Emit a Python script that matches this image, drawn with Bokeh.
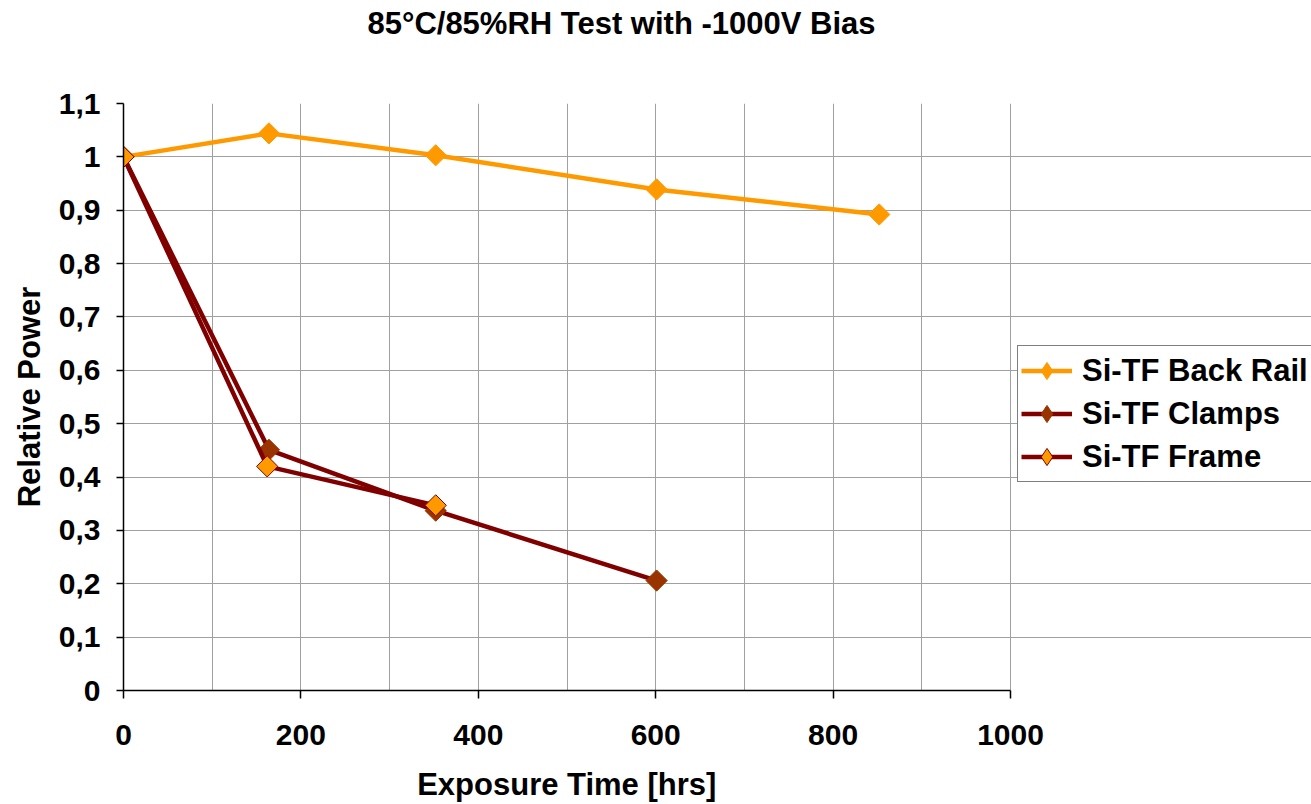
import numpy as np
from bokeh.plotting import figure
from bokeh.models import (FixedTicker, CustomJSTickFormatter, Legend, LegendItem,
                          Range1d, Title)
from bokeh.embed import file_html
from bokeh.resources import INLINE

# ---- data ----
title_text = "85°C/85%RH Test with -1000V Bias"
x_label = "Exposure Time [hrs]"
y_label = "Relative Power"

back_rail_x = [0, 164, 352, 601, 852]
back_rail_y = [1.0, 1.044, 1.003, 0.939, 0.892]

clamps_x = [0, 164, 352, 601]
clamps_y = [1.0, 0.451, 0.337, 0.206]

frame_x = [0, 162, 352]
frame_y = [1.0, 0.420, 0.347]

series_names = ["Si-TF Back Rail", "Si-TF Clamps", "Si-TF Frame"]
x_ticks = [0, 200, 400, 600, 800, 1000]
x_grid = [0, 100, 200, 300, 400, 500, 600, 700, 800, 900, 1000]
y_ticks = [0.0, 0.1, 0.2, 0.3, 0.4, 0.5, 0.6, 0.7, 0.8, 0.9, 1.0, 1.1]

FONT = "Liberation Sans"
ORANGE = "#FF9900"
DARKRED = "#800000"
BROWN = "#993300"

# plot area spans 0..1000; the frame is widened to the right so the legend fits inside
X_MAX = 1000
X_VIEW_END = X_MAX * 1188 / 887

p = figure(width=1311, height=804, output_backend="svg", toolbar_location=None,
           x_range=Range1d(0, X_VIEW_END), y_range=Range1d(0, 1.1),
           min_border_left=123, min_border_right=0, min_border_top=103,
           min_border_bottom=114)

p.background_fill_color = "white"
p.border_fill_color = "white"
p.outline_line_color = None

# spacer above the frame, then the title on top of it
spacer = Title(text=" ", text_font_size="1px", standoff=58)
p.add_layout(spacer, "above")
t = Title(text=title_text, align="left", offset=244, standoff=0,
          vertical_align="top",
          text_font=FONT, text_font_size="31px", text_font_style="bold",
          text_color="black")
p.add_layout(t, "above")

# axes
p.xaxis.ticker = FixedTicker(ticks=x_ticks)
p.xaxis.bounds = (0, X_MAX)
p.yaxis.ticker = FixedTicker(ticks=y_ticks)
p.yaxis.formatter = CustomJSTickFormatter(code="""
    let s = tick.toFixed(1);
    if (s.endsWith('.0')) { s = s.slice(0, -2); }
    return s.replace('.', ',');
""")
for ax in (p.xaxis, p.yaxis):
    ax.axis_line_color = "black"
    ax.axis_line_width = 1.5
    ax.major_tick_line_color = "black"
    ax.major_tick_line_width = 1.5
    ax.major_tick_in = 0
    ax.minor_tick_line_color = None
    ax.major_label_text_font = FONT
    ax.major_label_text_font_size = "30px"
    ax.major_label_text_font_style = "bold"
    ax.major_label_text_color = "black"
    ax.axis_label_text_font = FONT
    ax.axis_label_text_font_size = "31px"
    ax.axis_label_text_font_style = "bold"
    ax.axis_label_text_color = "black"

# the x label is centred on the whole (widened) frame; trailing no-break spaces
# shift it back under the 0..1000 plot area
p.xaxis.axis_label = x_label + "\u00a0" * 35
p.yaxis.axis_label = y_label
p.xaxis.major_tick_out = 8
p.yaxis.major_tick_out = 7
p.xaxis.major_label_standoff = 26
p.xaxis.axis_label_standoff = 19
p.yaxis.major_label_standoff = 16
p.yaxis.axis_label_standoff = 9

# grid
p.xgrid.ticker = FixedTicker(ticks=x_grid)
p.ygrid.ticker = FixedTicker(ticks=y_ticks)
p.ygrid.bounds = (0, X_MAX)
for g in (p.xgrid, p.ygrid):
    g.grid_line_color = "#A0A0A0"
    g.grid_line_width = 1

MS = 15
ANG = np.pi / 4
LW = 4.5

l1 = p.line(back_rail_x, back_rail_y, line_color=ORANGE, line_width=LW)
m1 = p.scatter(back_rail_x, back_rail_y, marker="square", size=MS, angle=ANG,
               fill_color=ORANGE, line_color=ORANGE, line_width=1)

l2 = p.line(clamps_x, clamps_y, line_color=DARKRED, line_width=LW)
m2 = p.scatter(clamps_x, clamps_y, marker="square", size=MS, angle=ANG,
               fill_color=BROWN, line_color=BROWN, line_width=1)

l3 = p.line(frame_x, frame_y, line_color=DARKRED, line_width=LW)
m3 = p.scatter(frame_x, frame_y, marker="square", size=MS, angle=ANG,
               fill_color=ORANGE, line_color=DARKRED, line_width=1)

# legend-only diamond symbols (legend glyphs ignore marker angle)
d1 = p.scatter(back_rail_x, back_rail_y, marker="diamond", fill_color=ORANGE,
               line_color=ORANGE, visible=False)
d2 = p.scatter(clamps_x, clamps_y, marker="diamond", fill_color=BROWN,
               line_color=BROWN, visible=False)
d3 = p.scatter(frame_x, frame_y, marker="diamond", fill_color=ORANGE,
               line_color=DARKRED, visible=False)

legend = Legend(items=[
    LegendItem(label=series_names[0], renderers=[l1, d1]),
    LegendItem(label=series_names[1], renderers=[l2, d2]),
    LegendItem(label=series_names[2], renderers=[l3, d3]),
], location=(894, 208))
legend.click_policy = "none"
legend.padding = 3
legend.margin = 0
legend.spacing = 0
legend.glyph_width = 51
legend.glyph_height = 43
legend.label_height = 43
legend.label_standoff = 10
legend.label_text_font = FONT
legend.label_text_font_size = "31px"
legend.label_text_font_style = "bold"
legend.label_text_color = "black"
legend.border_line_color = "black"
legend.border_line_width = 1.5
legend.background_fill_color = "white"
legend.background_fill_alpha = 1
p.add_layout(legend, "center")

open("out.html", "w").write(file_html(p, INLINE))
